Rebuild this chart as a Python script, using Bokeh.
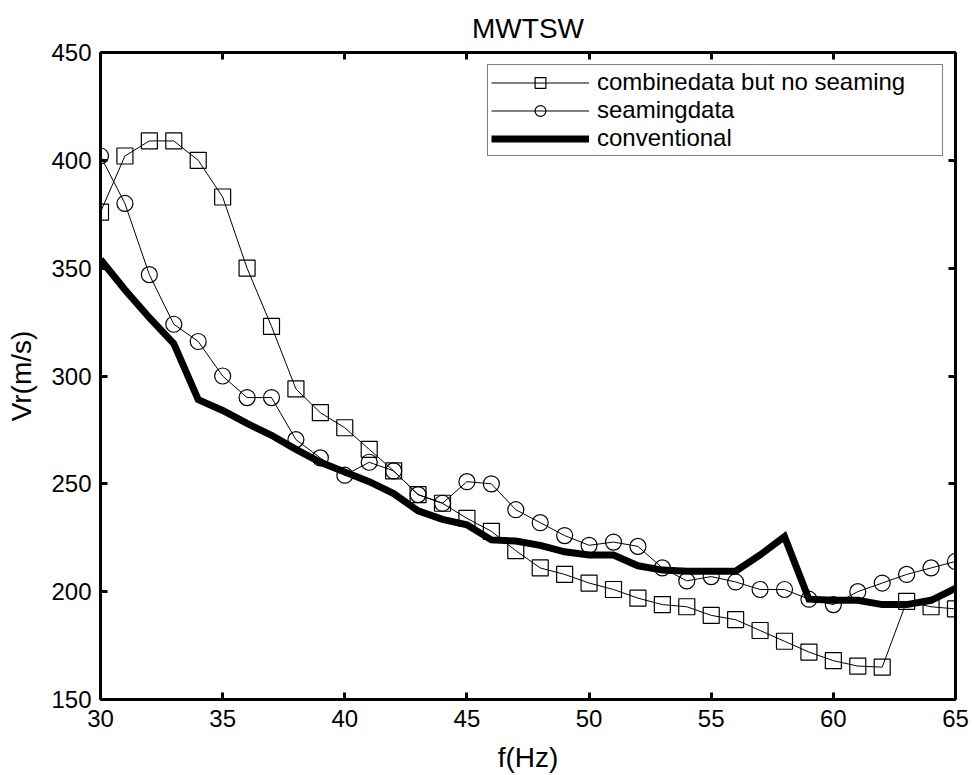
from bokeh.plotting import figure
from bokeh.models import (LinearAxis, FixedTicker, Range1d, Legend, LegendItem,
                          Title, ColumnDataSource)
from bokeh.embed import file_html
from bokeh.resources import INLINE

# ---- data ----
freq = list(range(30, 66))
combine = [376, 402, 409, 409, 400, 383, 350, 323, 294, 283,
           276, 266, 256, 245, 241, 234, 228, 219, 211, 208,
           204, 201, 197, 194, 193, 189, 187, 182, 177, 172,
           168, 165.5, 165, 195.5, 193, 192]
seaming = [402, 380, 347, 324, 316, 300, 290, 290, 270.5, 262,
           254, 260, 256, 245, 241, 251, 250, 238, 232, 226,
           221.5, 223, 221, 211, 205, 207, 204.5, 201, 201, 196.5,
           194, 200, 204, 208, 211, 214]
conventional = [354, 340, 327, 315, 289, 284, 278, 272.5, 266, 260,
                255.5, 251, 245.5, 237.5, 233.5, 231, 224, 223.5, 221.5, 218.5,
                217, 217, 212, 210, 209.5, 209.5, 209.5, 217, 225.5, 196.5,
                196, 196, 194, 194, 196, 201.5]
x_ticks = [30, 35, 40, 45, 50, 55, 60, 65]
y_ticks = [150, 200, 250, 300, 350, 400, 450]
series_labels = ["combinedata but no seaming", "seamingdata", "conventional"]
title_text = "MWTSW"
x_label = "f(Hz)"
y_label = "Vr(m/s)"

FONT = "Liberation Sans"

src = ColumnDataSource(dict(f=freq, c=combine, s=seaming, v=conventional))

p = figure(width=972, height=775, output_backend="svg", toolbar_location=None,
           x_range=Range1d(30, 65), y_range=Range1d(150, 450),
           title=None,
           min_border_left=100, min_border_right=17,
           min_border_top=52, min_border_bottom=76,
           background_fill_color="white", border_fill_color="white")
p.outline_line_color = None
p.grid.visible = False

top_ax = LinearAxis()
right_ax = LinearAxis()
p.add_layout(top_ax, "above")
p.add_layout(right_ax, "right")

for ax in p.xaxis:
    ax.ticker = FixedTicker(ticks=x_ticks)
for ax in p.yaxis:
    ax.ticker = FixedTicker(ticks=y_ticks)

for ax in list(p.xaxis) + list(p.yaxis):
    ax.axis_line_width = 3
    ax.axis_line_color = "black"
    ax.major_tick_line_width = 3
    ax.major_tick_line_color = "black"
    ax.major_tick_in = 7
    ax.major_tick_out = 0
    ax.minor_tick_line_color = None
    ax.major_label_text_font = FONT
    ax.major_label_text_color = "black"
    ax.major_label_text_font_size = "24px"

# box axes on top and right: ticks only, no labels drawn
for ax in (top_ax, right_ax):
    ax.major_label_text_font_size = "0px"
    ax.major_label_text_color = None
    ax.major_label_standoff = 0

bx = p.below[0]
bx.axis_label = x_label
bx.axis_label_text_font = FONT
bx.axis_label_text_font_size = "28px"
bx.axis_label_text_font_style = "normal"
bx.axis_label_text_color = "black"
bx.major_label_standoff = 10
bx.axis_label_standoff = 12

ly = p.left[0]
ly.axis_label = y_label
ly.axis_label_text_font = FONT
ly.axis_label_text_font_size = "28px"
ly.axis_label_text_font_style = "normal"
ly.axis_label_text_color = "black"
ly.major_label_standoff = 9
ly.axis_label_standoff = 11

p.add_layout(Title(text=title_text, align="center", vertical_align="top",
                   text_font=FONT, text_font_size="28px",
                   text_font_style="normal", text_color="black",
                   standoff=14), "above")

# ---- series ----
l_c = p.line("f", "c", source=src, line_color="black", line_width=1)
m_c = p.scatter("f", "c", source=src, marker="square", size=16,
                fill_color=None, line_color="black", line_width=1.2)
l_s = p.line("f", "s", source=src, line_color="black", line_width=1)
m_s = p.scatter("f", "s", source=src, marker="circle", size=16,
                fill_color=None, line_color="black", line_width=1.2)
l_v = p.line("f", "v", source=src, line_color="black", line_width=7,
             line_join="miter")

legend = Legend(items=[
    LegendItem(label=series_labels[0], renderers=[l_c, m_c]),
    LegendItem(label=series_labels[1], renderers=[l_s, m_s]),
    LegendItem(label=series_labels[2], renderers=[l_v]),
], location="top_right")
legend.margin = 12
legend.padding = 3
legend.spacing = 0
legend.glyph_width = 98
legend.glyph_height = 27
legend.label_height = 27
legend.label_width = 342
legend.label_standoff = 8
legend.label_text_font = FONT
legend.label_text_font_size = "24px"
legend.label_text_color = "black"
legend.border_line_color = "black"
legend.border_line_width = 1
legend.background_fill_color = "white"
legend.background_fill_alpha = 1
p.add_layout(legend, "center")

open("out.html", "w").write(file_html(p, INLINE))
